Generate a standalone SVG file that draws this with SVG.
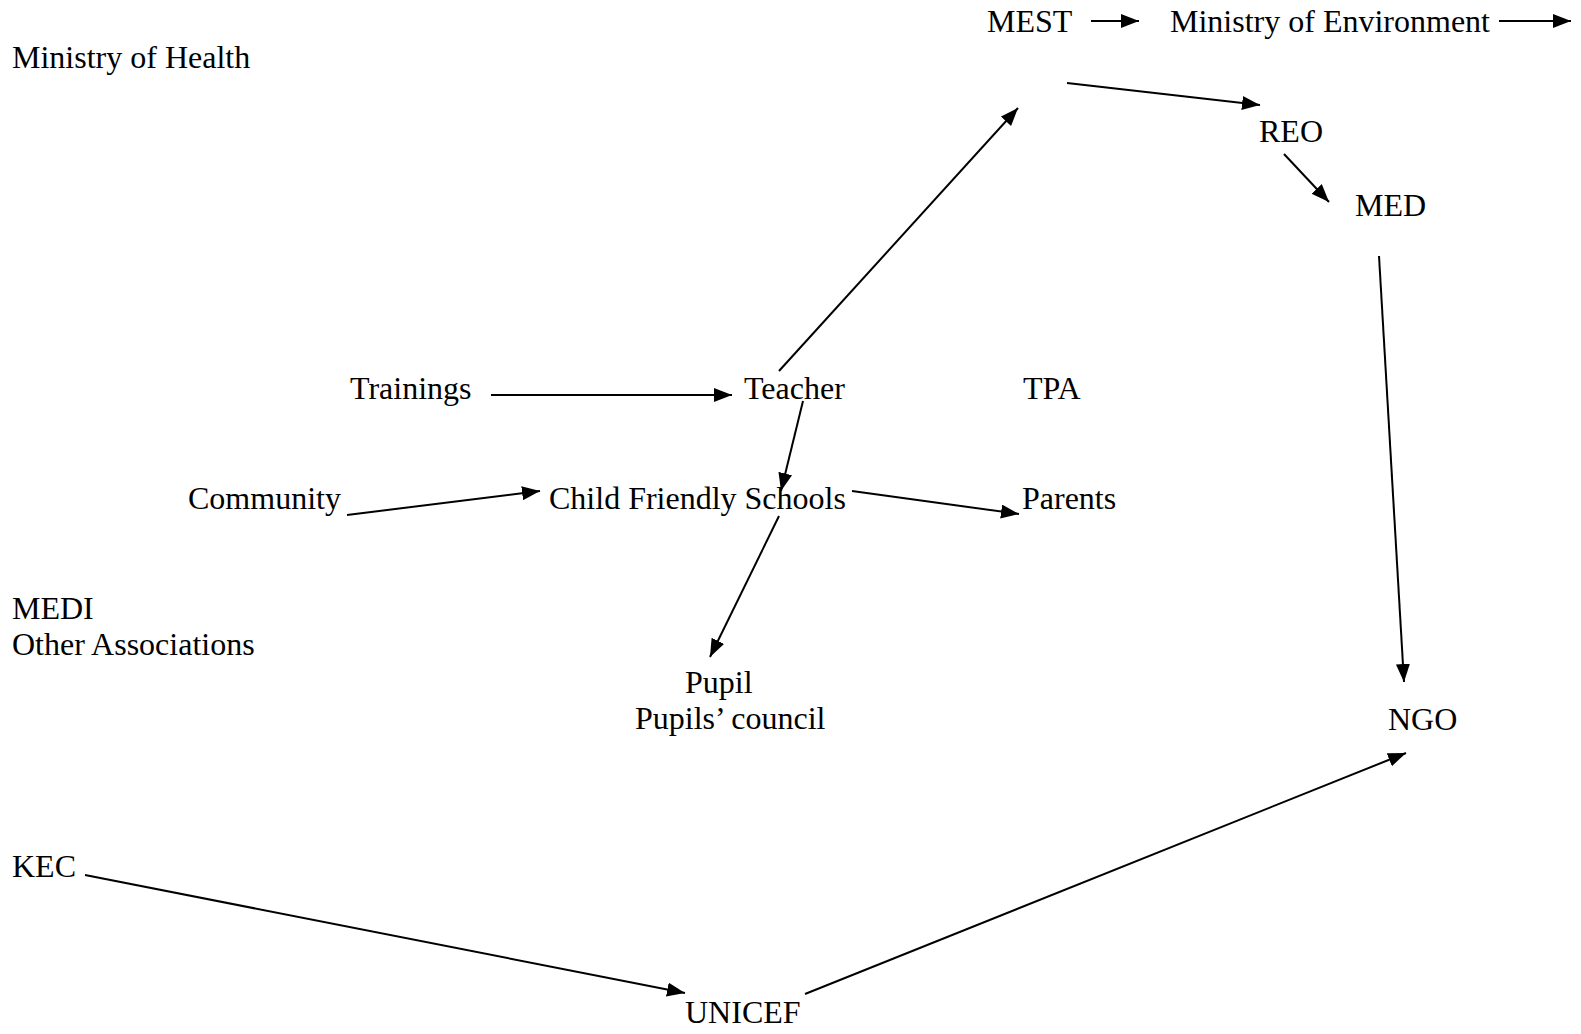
<svg xmlns="http://www.w3.org/2000/svg" width="1581" height="1034" viewBox="0 0 1581 1034">
<style>
text{font-family:"Liberation Serif","Times New Roman",serif;font-size:32px;fill:#000}
.c line{stroke:#000;stroke-width:2;marker-end:url(#ah)}
</style>
<defs>
<marker id="ah" markerUnits="userSpaceOnUse" markerWidth="20" markerHeight="16" refX="18" refY="7" orient="auto">
<path d="M0,0 L18,7 L0,14 z" fill="#000"/>
</marker>
</defs>
<rect width="1581" height="1034" fill="#fff"/>
<g id="mest"><text x="987" y="32">MEST</text></g>
<g id="moe"><text x="1170" y="32">Ministry of Environment</text></g>
<g id="moh"><text x="12" y="68">Ministry of Health</text></g>
<g id="reo"><text x="1259" y="142">REO</text></g>
<g id="med"><text x="1355" y="216">MED</text></g>
<g id="trainings"><text x="350" y="399">Trainings</text></g>
<g id="teacher"><text x="744" y="399">Teacher</text></g>
<g id="tpa"><text x="1023" y="399">TPA</text></g>
<g id="community"><text x="188" y="509">Community</text></g>
<g id="cfs"><text x="549" y="509">Child Friendly Schools</text></g>
<g id="parents"><text x="1022" y="509">Parents</text></g>
<g id="medi"><text x="12" y="619">MEDI</text><text x="12" y="655">Other Associations</text></g>
<g id="pupil"><text x="685" y="693">Pupil</text><text x="635" y="729">Pupils’ council</text></g>
<g id="ngo"><text x="1388" y="730">NGO</text></g>
<g id="kec"><text x="12" y="877">KEC</text></g>
<g id="unicef"><text x="685" y="1023">UNICEF</text></g>
<g id="connectors" class="c">
<line x1="1091" y1="21" x2="1139" y2="21"/>
<line x1="1499" y1="21" x2="1571" y2="21"/>
<line x1="1067" y1="83" x2="1260" y2="105"/>
<line x1="1284" y1="154" x2="1329" y2="202"/>
<line x1="1379" y1="256" x2="1404" y2="682"/>
<line x1="779" y1="371" x2="1018" y2="108"/>
<line x1="491" y1="395" x2="732" y2="395"/>
<line x1="803" y1="401" x2="781" y2="491"/>
<line x1="347" y1="515" x2="540" y2="491"/>
<line x1="852" y1="491" x2="1019" y2="514"/>
<line x1="779" y1="516" x2="710" y2="657"/>
<line x1="85" y1="875" x2="685" y2="993"/>
<line x1="805" y1="994" x2="1406" y2="753"/>
</g>
</svg>
